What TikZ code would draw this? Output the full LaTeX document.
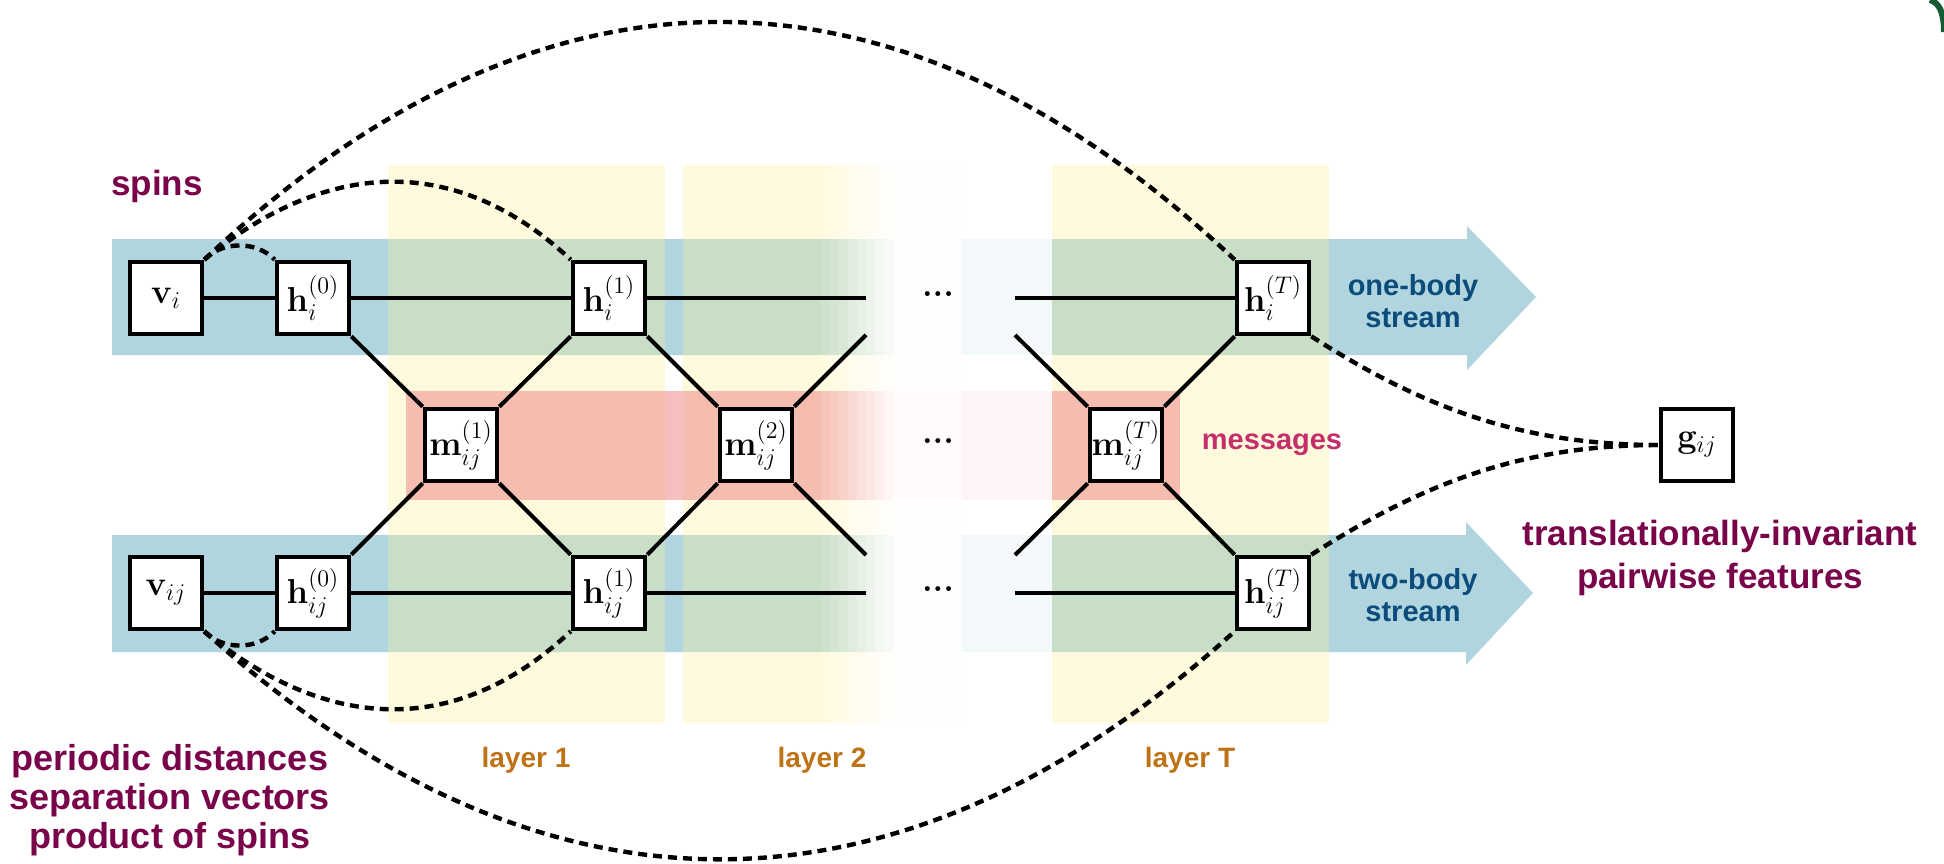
\documentclass[tikz,border=0pt]{standalone}
\usepackage[no-math]{fontspec}
\usepackage{amsmath}
\usepackage{xcolor}
\newfontfamily\labelfont{Liberation Sans}
\definecolor{streamblue}{RGB}{176,213,222}
\definecolor{layerfill}{RGB}{255,242,150}
\definecolor{msgfill}{RGB}{238,140,140}
\definecolor{notered}{RGB}{122,4,74}
\definecolor{msgred}{RGB}{196,46,106}
\definecolor{streamtext}{RGB}{12,76,124}
\definecolor{layertext}{RGB}{190,116,22}
\definecolor{cornergreen}{RGB}{20,90,50}

\begin{document}
\begin{tikzpicture}[x=0.5pt,y=-0.5pt]
	\tikzstyle{box}=[draw=black, fill=white, line width=2.3pt, minimum size=36pt, inner sep=0pt, font=\fontsize{18}{20}\selectfont]
	\tikzstyle{conn}=[black, line width=2pt]
	\tikzstyle{dashline}=[black, line width=2.2pt, dash pattern=on 4.5pt off 3pt]
	\tikzstyle{dotlabel}=[font=\bfseries\fontsize{17}{20}\selectfont]
	\tikzstyle{note}=[text=notered, align=center, font=\labelfont\bfseries\fontsize{17.5}{21.5}\selectfont]
	\tikzstyle{streamlabel}=[text=streamtext, align=center, font=\labelfont\bfseries\fontsize{14.5}{16}\selectfont]
	\tikzstyle{layerlabel}=[text=layertext, font=\labelfont\bfseries\fontsize{14}{16}\selectfont]
	\useasboundingbox (0,0) rectangle (1944,863);
	\fill[white] (0,0) rectangle (1944,863);
	\draw[cornergreen, line width=3pt] (1930,0) .. controls (1940,3) and (1944,14) .. (1944,32);
	% streams
	\fill[streamblue] (112,239) -- (1467,239) -- (1467,226) -- (1536,297) -- (1467,370) -- (1467,355) -- (112,355) -- cycle;
	\fill[streamblue] (112,535) -- (1466,535) -- (1466,522) -- (1533,593) -- (1466,665) -- (1466,652) -- (112,652) -- cycle;
	% layers
	\foreach \xa/\xb in {388/665, 683/961, 1052/1329}
		\fill[layerfill, opacity=0.32] (\xa,165) rectangle (\xb,723);
	\fill[msgfill, opacity=0.55] (406,391) rectangle (1180,500);
	% fade between layer 2 and layer T
	\foreach \k in {1,...,8}
		\fill[white, opacity=\k*0.11] ({812+\k*9},160) rectangle ({821+\k*9},730);
	\fill[white, opacity=0.95] (893,160) rectangle (962,730);
	\fill[white, opacity=0.85] (962,160) rectangle (1052,730);

	\node[box] (vi) at (166,298) {$\mathbf{v}_i$};
	\node[box] (h0i) at (313,298) {$\mathbf{h}_i^{(0)}$};
	\node[box] (h1i) at (609,298) {$\mathbf{h}_i^{(1)}$};
	\node[box] (hTi) at (1273,298) {$\mathbf{h}_i^{(T)}$};
	\node[box] (m1) at (461,445) {$\mathbf{m}_{ij}^{(1)}$};
	\node[box] (m2) at (756,445) {$\mathbf{m}_{ij}^{(2)}$};
	\node[box] (mT) at (1126,445) {$\mathbf{m}_{ij}^{(T)}$};
	\node[box] (vij) at (166,593) {$\mathbf{v}_{ij}$};
	\node[box] (h0ij) at (313,593) {$\mathbf{h}_{ij}^{(0)}$};
	\node[box] (h1ij) at (609,593) {$\mathbf{h}_{ij}^{(1)}$};
	\node[box] (hTij) at (1273,593) {$\mathbf{h}_{ij}^{(T)}$};
	\node[box] (g) at (1697,445) {$\mathbf{g}_{ij}$};

	\node[dotlabel] (dti) at (938,294) {...};
	\node[dotlabel] (dtm) at (938,441) {...};
	\node[dotlabel] (dtij) at (938,589) {...};
	\coordinate (ei) at (866,298);
	\coordinate (fi) at (1015,298);
	\coordinate (eu) at (866,335);
	\coordinate (fu) at (1015,335);
	\coordinate (ed) at (866,555);
	\coordinate (fd) at (1015,555);
	\coordinate (eij) at (866,593);
	\coordinate (fij) at (1015,593);

	\draw[conn] (vi) -- (h0i) -- (h1i) -- (ei);
	\draw[conn] (fi) -- (hTi);
	\draw[conn] (vij) -- (h0ij) -- (h1ij) -- (eij);
	\draw[conn] (fij) -- (hTij);
	\draw[conn] (h0i.south east) -- (m1.north west);
	\draw[conn] (h1i.south west) -- (m1.north east);
	\draw[conn] (h1i.south east) -- (m2.north west);
	\draw[conn] (m2.north east) -- (eu);
	\draw[conn] (fu) -- (mT.north west);
	\draw[conn] (mT.north east) -- (hTi.south west);
	\draw[conn] (h0ij.north east) -- (m1.south west);
	\draw[conn] (h1ij.north west) -- (m1.south east);
	\draw[conn] (h1ij.north east) -- (m2.south west);
	\draw[conn] (m2.south east) -- (ed);
	\draw[conn] (fd) -- (mT.south west);
	\draw[conn] (mT.south east) -- (hTij.north west);

	\draw[dashline] (vi.north east) .. controls +(18,-19) and +(-18,-19) .. (h0i.north west);
	\draw[dashline] (vi.north east) .. controls +(126,-104) and +(-111,-104) .. (h1i.north west);
	\draw[dashline] (vi.north east) .. controls +(336,-317) and +(-336,-317) .. (hTi.north west);
	\draw[dashline] (vij.south east) .. controls +(18,19) and +(-18,19) .. (h0ij.south west);
	\draw[dashline] (vij.south east) .. controls +(126,104) and +(-111,104) .. (h1ij.south west);
	\draw[dashline] (vij.south east) .. controls +(336,304) and +(-336,304) .. (hTij.south west);
	\draw[dashline] (hTi.south east) .. controls +(109,70) and +(-139,0) .. (g.west);
	\draw[dashline] (hTij.north east) .. controls +(109,-70) and +(-139,0) .. (g.west);

	\node[note] (spins) at (157,186) {spins};
	\node[note, font=\labelfont\bfseries\fontsize{18}{19.5}\selectfont] (edgefeat) at (170,800) {periodic distances\\separation vectors\\product of spins};
	\node[note] (pairfeat) at (1720,558) {translationally-invariant\\pairwise features};
	\node[text=msgred, font=\labelfont\bfseries\fontsize{14.5}{16}\selectfont] (msg) at (1272,445) {messages};
	\node[streamlabel] (onebody) at (1413,301) {one-body\\stream};
	\node[streamlabel] (twobody) at (1413,595) {two-body\\stream};
	\node[layerlabel] (lay1) at (526,760) {layer 1};
	\node[layerlabel] (lay2) at (822,760) {layer 2};
	\node[layerlabel] (layT) at (1190,760) {layer T};
\end{tikzpicture}
\end{document}
